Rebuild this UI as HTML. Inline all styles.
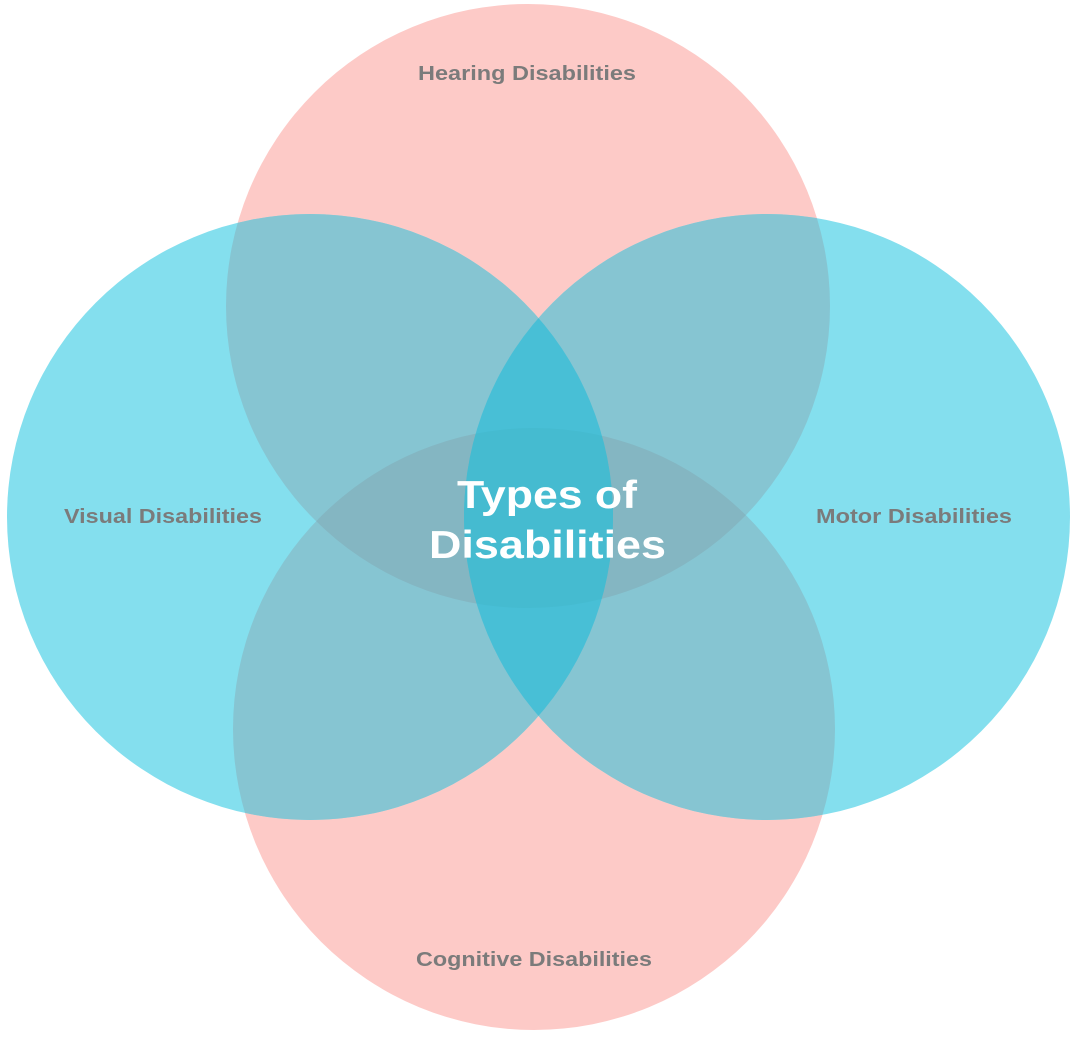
<!DOCTYPE html>
<html><head><meta charset="utf-8"><style>
html,body{margin:0;padding:0;background:#fff;width:1076px;height:1038px;overflow:hidden}
text{font-family:"Liberation Sans","DejaVu Sans",sans-serif;font-weight:bold}
</style></head><body>
<svg width="1076" height="1038" viewBox="0 0 1076 1038">
<defs>
<clipPath id="L"><circle cx="310" cy="517" r="303"/></clipPath>
<clipPath id="R"><circle cx="767" cy="517" r="303"/></clipPath>
<clipPath id="T"><circle cx="528" cy="306" r="302"/></clipPath>
<clipPath id="B"><circle cx="534" cy="729" r="301"/></clipPath>
</defs>
<circle cx="528" cy="306" r="302" fill="#fdcac7"/>
<circle cx="534" cy="729" r="301" fill="#fdcac7"/>
<circle cx="310" cy="517" r="303" fill="#84dfee"/>
<circle cx="767" cy="517" r="303" fill="#84dfee"/>
<g clip-path="url(#L)"><circle cx="528" cy="306" r="302" fill="#86c5d2"/><circle cx="534" cy="729" r="301" fill="#86c5d2"/></g>
<g clip-path="url(#R)"><circle cx="528" cy="306" r="302" fill="#86c5d2"/><circle cx="534" cy="729" r="301" fill="#86c5d2"/></g>
<g clip-path="url(#T)"><g clip-path="url(#B)"><rect x="0" y="0" width="1076" height="1038" fill="#84b6c2"/></g></g>
<g clip-path="url(#L)"><circle cx="767" cy="517" r="303" fill="#48bfd6"/></g>
<g clip-path="url(#T)"><g clip-path="url(#B)"><g clip-path="url(#L)"><circle cx="767" cy="517" r="303" fill="#45bbd0"/></g></g></g>
<text x="418" y="80" textLength="218" lengthAdjust="spacingAndGlyphs" font-size="20" fill="#7b7b7b">Hearing Disabilities</text>
<text x="64" y="523" textLength="198" lengthAdjust="spacingAndGlyphs" font-size="20" fill="#7b7b7b">Visual Disabilities</text>
<text x="816" y="523" textLength="196" lengthAdjust="spacingAndGlyphs" font-size="20" fill="#7b7b7b">Motor Disabilities</text>
<text x="416" y="966" textLength="236" lengthAdjust="spacingAndGlyphs" font-size="20" fill="#7b7b7b">Cognitive Disabilities</text>
<text x="457" y="508" textLength="180" lengthAdjust="spacingAndGlyphs" font-size="39" fill="#fff">Types of</text>
<text x="429" y="558" textLength="237" lengthAdjust="spacingAndGlyphs" font-size="39" fill="#fff">Disabilities</text>
</svg>
</body></html>
